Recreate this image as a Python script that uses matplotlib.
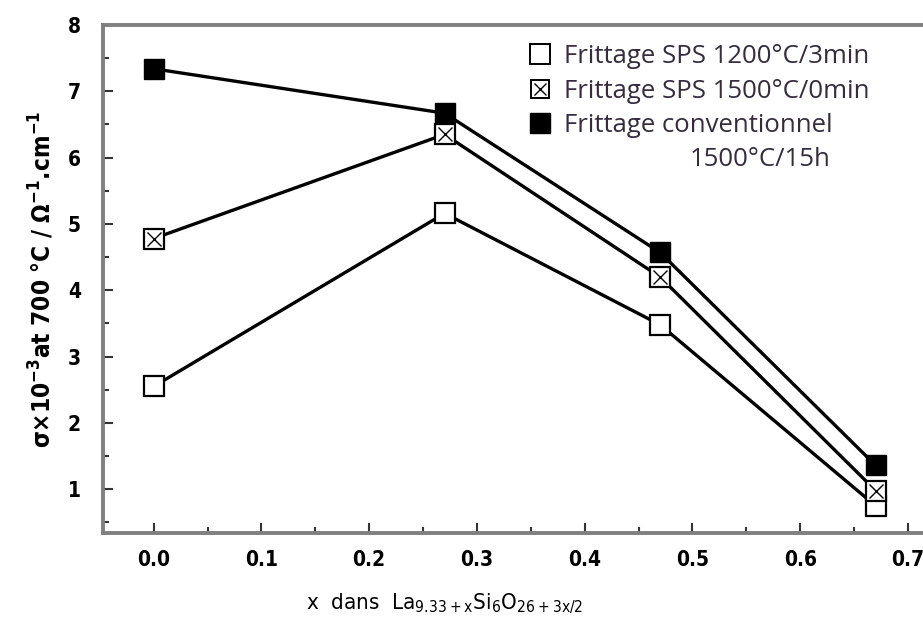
import matplotlib
matplotlib.use("Agg")
import matplotlib.pyplot as plt
from matplotlib.ticker import MultipleLocator, FormatStrFormatter
from matplotlib.lines import Line2D
from matplotlib import font_manager

# composition x and conductivity (x1e-3 S/cm at 700 C)
x_comp = [0.0, 0.27, 0.47, 0.67]
sps_1200 = [2.55, 5.16, 3.48, 0.75]
sps_1500 = [4.78, 6.35, 4.2, 0.98]
conv_1500 = [7.34, 6.67, 4.57, 1.36]

labels = ["Frittage SPS 1200°C/3min",
          "Frittage SPS 1500°C/0min",
          "Frittage conventionnel"]
label_extra = "1500°C/15h"

names = {f.name for f in font_manager.fontManager.ttflist}
narrow = "Liberation Sans Narrow" if "Liberation Sans Narrow" in names else "DejaVu Sans"

fig = plt.figure(figsize=(9.23, 6.33), dpi=100)
ax = fig.add_axes([0.1116, 0.158, 0.8884, 0.8025])

lw = 2.4
ms = 15
ax.plot(x_comp, sps_1200, color="black", lw=lw, marker="s", ms=ms,
        mfc="white", mec="black", mew=1.6, zorder=3)
ax.plot(x_comp, sps_1500, color="black", lw=lw, marker="s", ms=ms,
        mfc="white", mec="black", mew=1.6, zorder=3)
ax.plot(x_comp, sps_1500, ls="none", marker="x", ms=ms * 0.7,
        mec="black", mew=1.0, zorder=4)
ax.plot(x_comp, conv_1500, color="black", lw=lw, marker="s", ms=ms,
        mfc="black", mec="black", zorder=3)

ax.set_xlim(-0.047, 0.714)
ax.set_ylim(0.34, 8.0)

ax.xaxis.set_major_locator(MultipleLocator(0.1))
ax.xaxis.set_minor_locator(MultipleLocator(0.05))
ax.yaxis.set_major_locator(MultipleLocator(1))
ax.yaxis.set_minor_locator(MultipleLocator(0.5))
ax.xaxis.set_major_formatter(FormatStrFormatter("%.1f"))
ax.yaxis.set_major_formatter(FormatStrFormatter("%d"))

for lab in ax.get_xticklabels() + ax.get_yticklabels():
    lab.set_fontfamily([narrow, "DejaVu Sans"])
    lab.set_fontstretch("condensed")
    lab.set_fontweight("bold")
    lab.set_fontsize(15)
ax.tick_params(which="major", direction="in", length=7, width=1.5,
               color="#333333", pad=12)
ax.tick_params(which="minor", direction="in", length=4, width=1.5,
               color="#333333")
ax.tick_params(axis="y", pad=16)

for side in ["left", "bottom", "top"]:
    ax.spines[side].set_linewidth(2.8)
    ax.spines[side].set_color("#808080")
ax.spines["right"].set_visible(False)

ax.set_ylabel(r"σ×10$^{\mathregular{-3}}$at 700 °C / Ω$^{\mathregular{-1}}$.cm$^{\mathregular{-1}}$",
              fontfamily=[narrow, "DejaVu Sans"], fontstretch="condensed",
              fontweight="bold", fontsize=17.5, labelpad=8)
ax.set_xlabel(r"x  dans  La$_{\mathregular{9.33+x}}$Si$_{\mathregular{6}}$O$_{\mathregular{26+3x/2}}$",
              fontfamily=[narrow, "DejaVu Sans"], fontstretch="condensed",
              fontsize=16, labelpad=14)
ax.xaxis.set_label_coords(0.417, -0.115)

handles = [
    Line2D([], [], ls="none", marker="s", ms=14, mfc="white", mec="black", mew=1.4),
    (Line2D([], [], ls="none", marker="s", ms=13, mfc="white", mec="black", mew=1.4),
     Line2D([], [], ls="none", marker="x", ms=9, mec="black", mew=1.0)),
    Line2D([], [], ls="none", marker="s", ms=14, mfc="black", mec="black"),
]
leg_font = {"family": ["Open Sans", "DejaVu Sans"], "size": 18.5}
leg = ax.legend(handles, labels, loc="upper left", bbox_to_anchor=(0.5215, 0.962),
                frameon=False, borderpad=0, borderaxespad=0,
                handlelength=0.7, handletextpad=0.6,
                labelspacing=0.36, prop=leg_font)
for t in leg.get_texts():
    t.set_color("#352c3c")
ax.text(0.716, 0.735, label_extra, transform=ax.transAxes, va="center",
        ha="left", color="#352c3c", fontfamily=leg_font["family"],
        fontsize=leg_font["size"])

fig.savefig("out.png", dpi=100)
